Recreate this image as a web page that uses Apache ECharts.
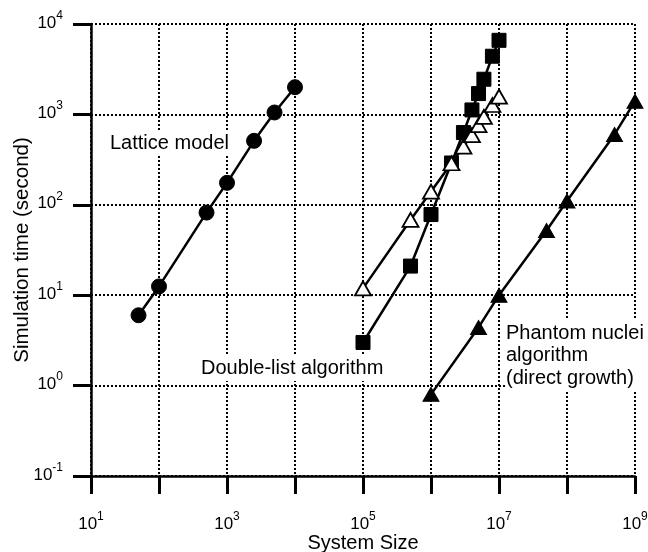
<!DOCTYPE html>
<html>
<head>
<meta charset="utf-8">
<script src="https://cdn.jsdelivr.net/npm/echarts@6/dist/echarts.min.js"></script>
<style>
html,body{margin:0;padding:0;background:#fff;}
#main{width:648px;height:552px;}
</style>
</head>
<body>
<div id="main"></div>
<script>
// Lattice model (filled circles)
const latticeX = [50, 100, 500, 1000, 2500, 5000, 10000];
const latticeY = [6.0, 12.5, 82, 175, 510, 1050, 2000];
// Double-list algorithm (filled squares)
const doubleListX = [1e5, 5e5, 1e6, 2e6, 3e6, 4e6, 5e6, 6e6, 8e6, 1e7];
const doubleListY = [3.0, 21, 78, 290, 630, 1120, 1700, 2450, 4400, 6600];
// Second double-list series (open triangles)
const openTriX = [1e5, 5e5, 1e6, 2e6, 3e6, 4e6, 5e6, 6e6, 8e6, 1e7];
const openTriY = [11.9, 68, 140, 288, 440, 590, 760, 940, 1270, 1570];
// Phantom nuclei algorithm (filled triangles)
const phantomX = [1e6, 5e6, 1e7, 5e7, 1e8, 5e8, 1e9];
const phantomY = [0.8, 4.4, 10, 52, 110, 600, 1400];

const xTickExponents = [1, 2, 3, 4, 5, 6, 7, 8, 9];
const yTickExponents = [-1, 0, 1, 2, 3, 4];

const FONT = '"Liberation Sans", Arial, Helvetica, sans-serif';

function pairs(xs, ys) { return xs.map((x, i) => [x, ys[i]]); }
function expOf(v) { return Math.round(Math.log10(v)); }

const rich = {
  b: { fontSize: 17, lineHeight: 17, verticalAlign: 'bottom', color: '#000', fontFamily: FONT },
  s: { fontSize: 12, lineHeight: 12, verticalAlign: 'bottom', padding: [0, 0, 10, 0], color: '#000', fontFamily: FONT }
};

const lineStyle = { color: '#000', width: 2.5 };
const gridLine = { show: true, lineStyle: { color: '#000', width: 2, type: [2, 2] } };

const chart = echarts.init(document.getElementById('main'), null, { renderer: 'canvas' });
chart.setOption({
  animation: false,
  backgroundColor: '#fff',
  textStyle: { fontFamily: FONT, color: '#000' },
  grid: { left: 91, right: 13, top: 24, bottom: 76, containLabel: false, outerBoundsMode: 'none' },
  xAxis: {
    type: 'log', logBase: 10, min: 10, max: 1e9, splitNumber: 8,
    name: 'System Size', nameLocation: 'middle', nameGap: 57, nameMoveOverlap: false,
    nameTextStyle: { fontSize: 20, color: '#000', fontFamily: FONT },
    axisLine: { lineStyle: { color: '#000', width: 2.5 } },
    axisTick: { show: true, inside: false, length: 18, lineStyle: { color: '#000', width: 3 } },
    axisLabel: {
      margin: 40, rich: rich,
      formatter: function (v) {
        const e = expOf(v);
        if (xTickExponents.indexOf(e) < 0 || e % 2 === 0) return '';
        return '{b|10}{s|' + e + '}';
      }
    },
    splitLine: gridLine
  },
  yAxis: {
    type: 'log', logBase: 10, min: 0.1, max: 1e4, splitNumber: 5,
    name: 'Simulation time (second)', nameLocation: 'middle', nameGap: 58, nameMoveOverlap: false,
    nameTextStyle: { fontSize: 20.5, color: '#000', fontFamily: FONT },
    axisLine: { lineStyle: { color: '#000', width: 2.5 } },
    axisTick: { show: true, inside: false, length: 18, lineStyle: { color: '#000', width: 3 } },
    axisLabel: {
      margin: 28, rich: rich, padding: [0, 0, 2, 0],
      formatter: function (v) {
        const e = expOf(v);
        if (yTickExponents.indexOf(e) < 0) return '';
        return '{b|10}{s|' + e + '}';
      }
    },
    splitLine: gridLine
  },
  series: [
    {
      name: 'Lattice model', type: 'line', data: pairs(latticeX, latticeY),
      symbol: 'circle', symbolSize: 15, lineStyle: lineStyle,
      itemStyle: { color: '#000', borderColor: '#000' }, z: 3
    },
    {
      name: 'Double-list algorithm', type: 'line', data: pairs(doubleListX, doubleListY),
      symbol: 'rect', symbolSize: 14, lineStyle: lineStyle,
      itemStyle: { color: '#000', borderColor: '#000' }, z: 3
    },
    {
      name: 'Double-list (open)', type: 'line', data: pairs(openTriX, openTriY),
      symbol: 'triangle', symbolSize: [16, 14], lineStyle: lineStyle,
      itemStyle: { color: '#fff', borderColor: '#000', borderWidth: 1.8 }, z: 4
    },
    {
      name: 'Phantom nuclei algorithm', type: 'line', data: pairs(phantomX, phantomY),
      symbol: 'triangle', symbolSize: [16, 14], lineStyle: lineStyle,
      itemStyle: { color: '#000', borderColor: '#000' }, z: 3
    }
  ],
  graphic: [
    { type: 'text', left: 109, top: 130, z: 5,
      style: { text: 'Lattice model', fontSize: 20, fontFamily: FONT, fill: '#000', backgroundColor: '#fff', padding: [3, 1] } },
    { type: 'text', left: 200, top: 355, z: 5,
      style: { text: 'Double-list algorithm', fontSize: 20, fontFamily: FONT, fill: '#000', backgroundColor: '#fff', padding: [3, 1] } },
    { type: 'text', left: 505, top: 320, z: 5,
      style: { text: 'Phantom nuclei\nalgorithm\n(direct growth)', fontSize: 20, lineHeight: 22.5, fontFamily: FONT, fill: '#000', backgroundColor: '#fff', padding: [2, 1] } }
  ]
});
</script>
</body>
</html>
